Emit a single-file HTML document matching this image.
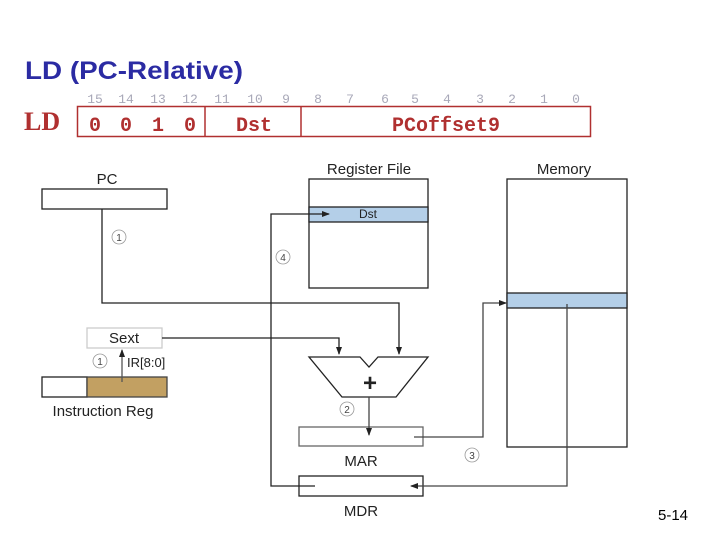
<!DOCTYPE html>
<html><head><meta charset="utf-8"><style>
html,body{margin:0;padding:0;background:#fff;width:720px;height:540px;overflow:hidden}
</style></head><body>
<svg width="720" height="540" viewBox="0 0 720 540" xmlns="http://www.w3.org/2000/svg" font-family="Liberation Sans, sans-serif">
<defs><marker id="a" markerWidth="8" markerHeight="8" refX="7" refY="4" orient="auto" markerUnits="userSpaceOnUse"><path d="M0,1 L8,4 L0,7 z" fill="#222"/></marker></defs>
<text x="25" y="79" font-size="25" font-weight="bold" fill="#2b2ba3" textLength="218" lengthAdjust="spacingAndGlyphs">LD (PC-Relative)</text>
<g font-family="Liberation Mono, monospace" font-size="13" fill="#a8a8b8" text-anchor="middle">
<text x="95" y="103">15</text><text x="126" y="103">14</text><text x="158" y="103">13</text><text x="190" y="103">12</text>
<text x="222" y="103">11</text><text x="255" y="103">10</text><text x="286" y="103">9</text><text x="318" y="103">8</text>
<text x="350" y="103">7</text><text x="385" y="103">6</text><text x="415" y="103">5</text><text x="447" y="103">4</text>
<text x="480" y="103">3</text><text x="512" y="103">2</text><text x="544" y="103">1</text><text x="576" y="103">0</text>
</g>
<text x="24" y="130" font-family="Liberation Serif, serif" font-size="26" font-weight="bold" fill="#b03030">LD</text>
<rect x="77.5" y="106.5" width="513" height="30" fill="none" stroke="#b03030" stroke-width="1.5"/>
<line x1="205" y1="106" x2="205" y2="137" stroke="#b03030" stroke-width="1.5"/>
<line x1="301" y1="106" x2="301" y2="137" stroke="#b03030" stroke-width="1.5"/>
<g font-family="Liberation Mono, monospace" font-size="20" font-weight="bold" fill="#b03030" text-anchor="middle">
<text x="95" y="131">0</text><text x="126" y="131">0</text><text x="158" y="131">1</text><text x="190" y="131">0</text>
<text x="254" y="131">Dst</text><text x="446" y="131">PCoffset9</text></g>
<g font-size="15" fill="#222" text-anchor="middle">
<text x="107" y="184">PC</text><text x="369" y="174">Register File</text><text x="564" y="174">Memory</text>
<text x="124" y="343">Sext</text><text x="103" y="416">Instruction Reg</text>
<text x="361" y="466">MAR</text><text x="361" y="516">MDR</text></g>
<text x="658" y="520" font-size="15" fill="#000">5-14</text>
<g stroke="#222" stroke-width="1.3" fill="none">
<rect x="42" y="189" width="125" height="20" fill="#fff"/>
<rect x="309" y="179" width="119" height="109"/>
<rect x="309" y="207" width="119" height="15" fill="#b4cfe8"/>
<rect x="507" y="179" width="120" height="268"/>
<rect x="507" y="293" width="120" height="15" fill="#b4cfe8"/>
<rect x="42" y="377" width="45" height="20"/>
<rect x="87" y="377" width="80" height="20" fill="#c2a062" stroke="#444"/>
<rect x="87" y="328" width="75" height="20" stroke="#ccc"/>
<rect x="299" y="427" width="124" height="19" stroke="#666"/>
<rect x="299" y="476" width="124" height="20"/>
<path d="M309,357 L360,357 L369,367 L378,357 L428,357 L396,397 L342,397 Z"/>
<path d="M102,209 L102,303 L399,303 L399,354" marker-end="url(#a)"/>
<path d="M162,338 L339,338 L339,354" marker-end="url(#a)"/>
<path d="M122,382 L122,350" stroke="#555" marker-end="url(#a)"/>
<path d="M369,397 L369,435" stroke="#444" marker-end="url(#a)"/>
<path d="M315,486 L271,486 L271,214 L329,214" marker-end="url(#a)"/>
<path d="M414,437 L483,437 L483,303 L506,303" stroke="#444" marker-end="url(#a)"/>
<path d="M567,304 L567,486 L411,486" stroke="#444" marker-end="url(#a)"/>
</g>
<text x="368" y="218" font-size="12" fill="#222" text-anchor="middle">Dst</text>
<text x="370" y="391" font-size="24" font-weight="bold" fill="#222" text-anchor="middle">+</text>
<text x="127" y="367" font-size="13" fill="#222">IR[8:0]</text>
<g font-size="10" fill="#444" text-anchor="middle" stroke-width="0.8">
<circle cx="119" cy="237" r="7" fill="none" stroke="#999"/><text x="119" y="241">1</text>
<circle cx="100" cy="361" r="7" fill="none" stroke="#999"/><text x="100" y="365">1</text>
<circle cx="283" cy="257" r="7" fill="none" stroke="#999"/><text x="283" y="261">4</text>
<circle cx="347" cy="409" r="7" fill="none" stroke="#999"/><text x="347" y="413">2</text>
<circle cx="472" cy="455" r="7" fill="none" stroke="#999"/><text x="472" y="459">3</text>
</g>
</svg>
</body></html>
